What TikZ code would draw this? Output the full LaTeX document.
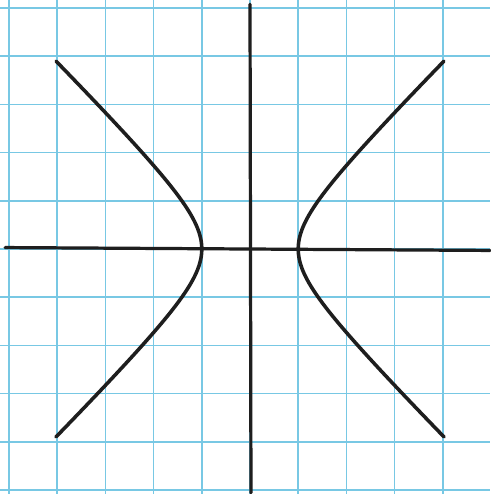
\documentclass[tikz,border=0pt]{standalone}
\definecolor{gridblue}{RGB}{120,200,228}
\definecolor{ink}{RGB}{30,30,30}
\tikzset{
  gridline/.style={draw=gridblue, line width=0.9pt},
  axisline/.style={draw=ink, line width=1.9pt, line cap=round},
  curveline/.style={draw=ink, line width=2.1pt, line cap=round, line join=round}
}
\begin{document}
\begin{tikzpicture}
\fill[white] (-5.187,-5.083) rectangle (4.979,5.166);
\useasboundingbox (-5.187,-5.083) rectangle (4.979,5.166);
% grid
\foreach \i in {-5,...,4} {
  \draw[gridline] (\i,-5.083) -- (\i,5.166);
}
\foreach \j in {-5,...,5} {
  \draw[gridline] (-5.187,\j) -- (4.979,\j);
}
% axes
\coordinate (xl) at (-5.08,0.03);
\coordinate (xr) at (4.979,-0.03);
\coordinate (yt) at (0,5.08);
\coordinate (yb) at (0.02,-5.06);
\draw[axisline] (xl) -- (xr);
\draw[axisline] (yt) -- (yb);
% hyperbola x^2 - y^2 = 1
\draw[curveline] plot[domain=-2.07:2.07, samples=80, smooth, variable=\t] ({-cosh(\t)},{sinh(\t)});
\draw[curveline] plot[domain=-2.07:2.07, samples=80, smooth, variable=\t] ({cosh(\t)},{sinh(\t)});
\end{tikzpicture}
\end{document}
